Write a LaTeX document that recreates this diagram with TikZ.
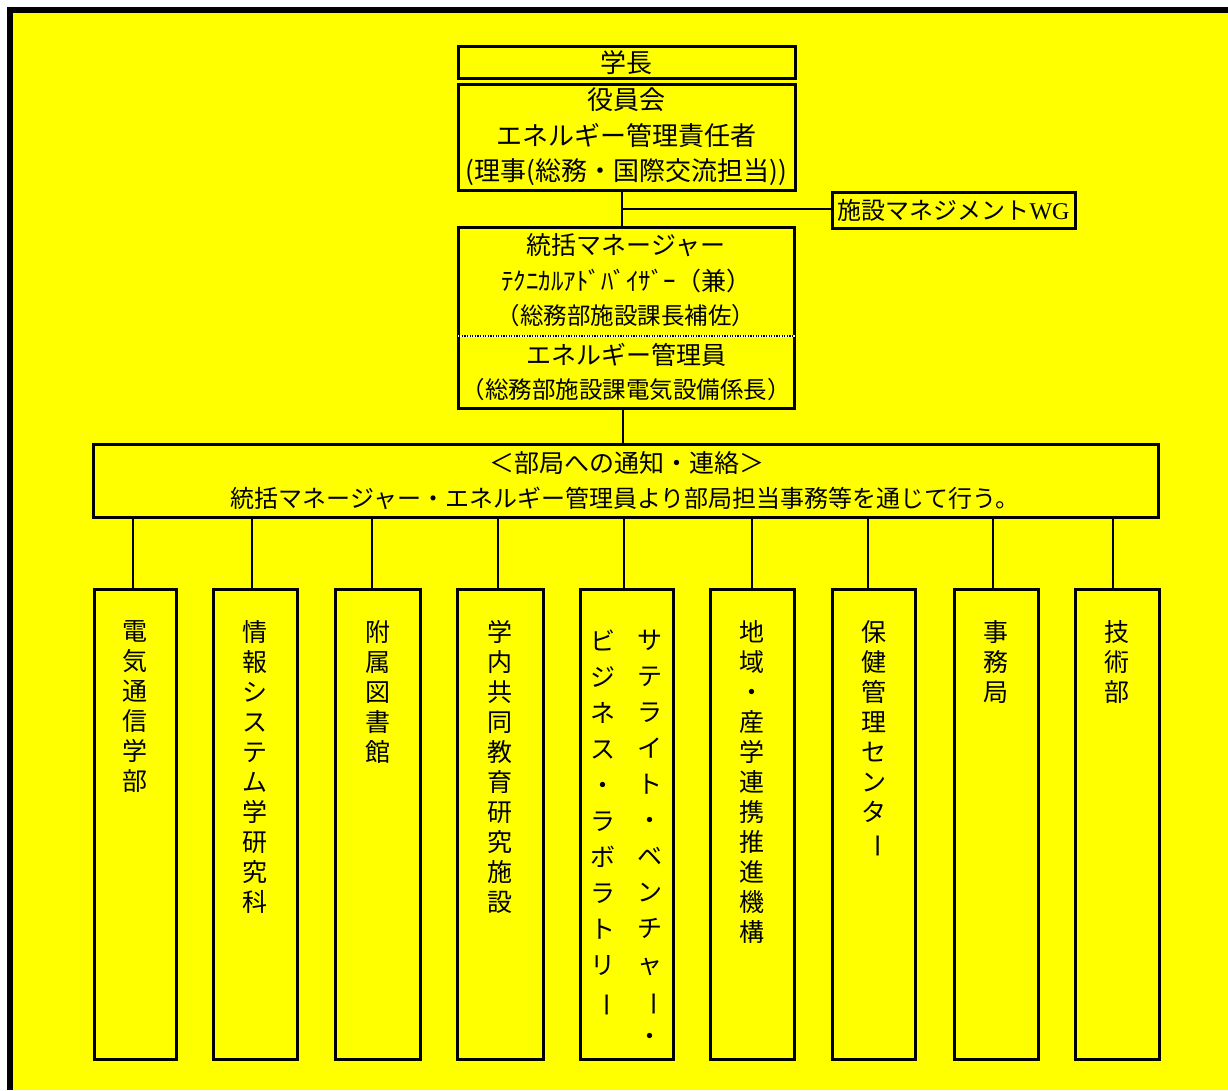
\documentclass[tikz,border=0pt]{standalone}
\usepackage{fontspec}
\usepackage{graphicx}
\newfontfamily\jp{Noto Sans CJK JP}
\newfontfamily\tnr{Liberation Serif}
\definecolor{bgyellow}{RGB}{255,255,0}
\newcommand{\vbar}{\rotatebox[origin=c]{-90}{ー}}
\begin{document}
\begin{tikzpicture}[x=1pt,y=-1pt,
  box/.style={draw, line width=3pt, fill=bgyellow, inner sep=0pt},
  wire/.style={line width=1.5pt},
  txt/.style={inner sep=0pt, align=center, font=\jp\fontsize{25}{35}\selectfont},
  vtxt/.style={inner sep=0pt, align=center, anchor=north, font=\jp\fontsize{25}{30}\selectfont},
  vtxtw/.style={inner sep=0pt, align=center, anchor=north, font=\jp\fontsize{25}{36}\selectfont}]
\useasboundingbox (0,0) rectangle (1228,1090);
\fill[white] (0,0) rectangle (1228,1090);
\fill[bgyellow] (7,7) rectangle (1228,1090);
\draw[line width=6pt] (10,1090) -- (10,10) -- (1228,10);

% top boxes
\node[box, minimum width=337pt, minimum height=32pt] (gakucho) at (626.5,62.5) {};
\node[txt, font=\jp\fontsize{26}{35}\selectfont] (tgakucho) at (626.5,62.5) {学長};
\node[box, minimum width=337pt, minimum height=106pt] (yakuin) at (626.5,137) {};
\node[txt, font=\jp\fontsize{26}{35.5}\selectfont] (tyakuin) at (626.5,137) {役員会\\エネルギー管理責任者\\(理事(総務・国際交流担当))};

\node[box, minimum width=243pt, minimum height=36pt] (wg) at (953.5,210) {};
\node[txt, font=\jp\fontsize{24}{30}\selectfont] (twg) at (953.5,210) {施設マネジメント{\tnr WG}};

\node[box, minimum width=336pt, minimum height=181pt] (tokatsu) at (626,317.5) {};
\coordinate (dl) at (626,336);
\draw[white, line width=2.5pt] (dl -| tokatsu.west) -- (dl -| tokatsu.east);
\draw[line width=2.5pt, dash pattern=on 1.3pt off 1.3pt] (dl -| tokatsu.west) -- (dl -| tokatsu.east);
\node[txt] (ta) at (626,245) {統括マネージャー};
\node[txt] (tb) at (626,281) {ﾃｸﾆｶﾙｱﾄﾞﾊﾞｲｻﾞｰ（兼）};
\node[txt, font=\jp\fontsize{23.5}{30}\selectfont] (tc) at (626,316) {（総務部施設課長補佐）};
\node[txt] (td) at (626,355) {エネルギー管理員};
\node[txt, font=\jp\fontsize{23.5}{30}\selectfont] (te) at (626,390) {（総務部施設課電気設備係長）};

% connectors at top
\coordinate (spine) at (622,209);
\draw[wire] (yakuin.south -| spine) -- (tokatsu.north -| spine);
\draw[wire] (spine) -- (spine -| wg.west);
\coordinate (spine2) at (623,420);
\draw[wire] (tokatsu.south -| spine2) -- (spine2 |- 0,444);

% notice box
\node[box, minimum width=1065pt, minimum height=73pt] (notice) at (625.5,480.5) {};
\node[txt] (n1) at (627,463) {＜部局への通知・連絡＞};
\node[txt, font=\jp\fontsize{24}{30}\selectfont] (n2) at (625,498) {統括マネージャー・エネルギー管理員より部局担当事務等を通じて行う。};

% columns
\foreach \i/\l/\r/\lx in {1/94/176/133, 2/213/297/252, 3/335/420/372, 4/457/543/498, 5/580/673/624, 6/710/794/752, 7/832/915/868, 8/954/1038/993, 9/1075/1159/1113} {
  \pgfmathsetmacro{\cx}{(\l+\r)/2}
  \pgfmathsetmacro{\w}{\r-\l}
  \node[box, minimum width=\w pt, minimum height=470pt] (c\i) at (\cx,824) {};
  \coordinate (lx\i) at (\lx,550);
  \draw[wire] (notice.south -| lx\i) -- (c\i.north -| lx\i);
}
\node[vtxt] (v1) at ([yshift=-33pt]c1.north) {電\\気\\通\\信\\学\\部};
\node[vtxt] (v2) at ([yshift=-33pt]c2.north) {情\\報\\シ\\ス\\テ\\ム\\学\\研\\究\\科};
\node[vtxt] (v3) at ([yshift=-33pt]c3.north) {附\\属\\図\\書\\館};
\node[vtxt] (v4) at ([yshift=-33pt]c4.north) {学\\内\\共\\同\\教\\育\\研\\究\\施\\設};
\node[vtxtw] (v5a) at ([xshift=23.5pt,yshift=-42pt]c5.north) {サ\\テ\\ラ\\イ\\ト\\・\\ベ\\ン\\チ\\ャ\\\vbar\\・};
\node[vtxtw] (v5b) at ([xshift=-23.5pt,yshift=-42pt]c5.north) {ビ\\ジ\\ネ\\ス\\・\\ラ\\ボ\\ラ\\ト\\リ\\\vbar};
\node[vtxt] (v6) at ([yshift=-33pt]c6.north) {地\\域\\・\\産\\学\\連\\携\\推\\進\\機\\構};
\node[vtxt] (v7) at ([yshift=-33pt]c7.north) {保\\健\\管\\理\\セ\\ン\\タ\\\vbar};
\node[vtxt] (v8) at ([yshift=-33pt]c8.north) {事\\務\\局};
\node[vtxt] (v9) at ([yshift=-33pt]c9.north) {技\\術\\部};
\end{tikzpicture}
\end{document}
